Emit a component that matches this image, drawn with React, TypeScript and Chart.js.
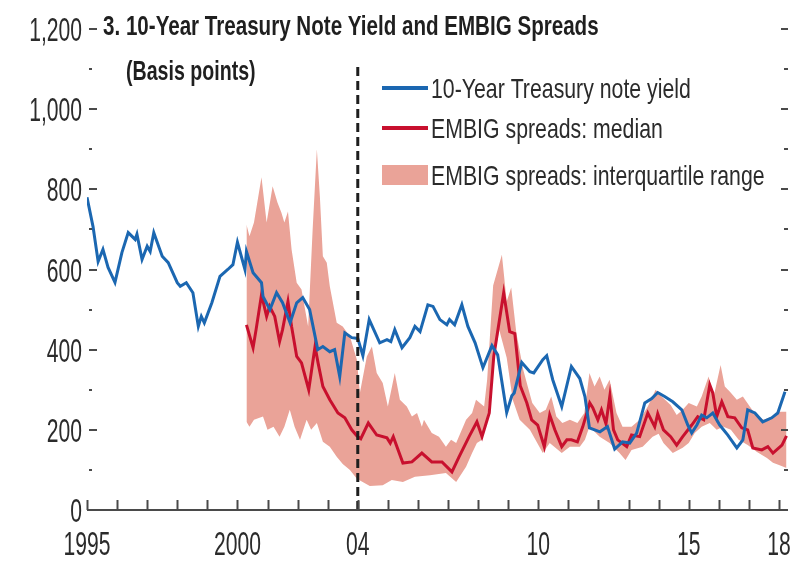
import React, { useEffect, useRef } from "react";
import { Chart, registerables } from "chart.js";

Chart.register(...registerables);

// ---------- data ----------
const treasuryDates = [
  1995.0, 1995.2, 1995.37, 1995.53, 1995.7, 1995.93, 1996.16, 1996.37, 1996.6, 1996.66, 1996.83,
  1997.0, 1997.1, 1997.22, 1997.5, 1997.7, 1998.0, 1998.1, 1998.3, 1998.52, 1998.7, 1998.8, 1998.9,
  1999.15, 1999.42, 1999.68, 1999.85, 2000.0, 2000.25, 2000.3, 2000.52, 2000.8, 2000.85, 2001.08,
  2001.3, 2001.5, 2001.75, 2001.97, 2002.17, 2002.4, 2002.67, 2002.84, 2003.07, 2003.23, 2003.4,
  2003.57, 2003.8, 2004.0, 2004.17, 2004.38, 2004.73, 2004.97, 2005.1, 2005.23, 2005.47, 2005.73,
  2005.9, 2006.07, 2006.33, 2006.5, 2006.73, 2006.96, 2007.05, 2007.22, 2007.46, 2007.66, 2007.9,
  2008.16, 2008.46, 2008.65, 2008.95, 2009.12, 2009.2, 2009.45, 2009.72, 2009.85, 2010.15, 2010.28,
  2010.48, 2010.78, 2011.1, 2011.38, 2011.55, 2011.7, 2012.05, 2012.3, 2012.54, 2012.8, 2013.04,
  2013.27, 2013.54, 2013.77, 2013.97, 2014.2, 2014.47, 2014.77, 2014.97, 2015.1, 2015.27, 2015.43,
  2015.6, 2015.8, 2016.03, 2016.3, 2016.6, 2016.8, 2016.96, 2017.2, 2017.46, 2017.76, 2017.96, 2018.2,
];
const treasuryYield = [
  780, 707, 620, 650, 605, 568, 642, 692, 675, 688, 625,
  658, 645, 692, 633, 617, 567, 558, 567, 542, 458, 483, 467,
  517, 583, 600, 612, 668, 600, 645, 592, 567, 533, 500,
  542, 517, 467, 517, 530, 500, 400, 408, 395, 400, 333,
  442, 430, 428, 385, 475, 417, 425, 420, 450, 405, 430,
  458, 445, 512, 508, 475, 462, 475, 462, 512, 458, 417,
  355, 410, 387, 243, 285, 292, 368, 345, 342, 375, 385,
  325, 258, 358, 328, 283, 205, 195, 208, 152, 170, 167,
  192, 267, 278, 293, 283, 270, 250, 212, 192, 212, 237,
  230, 242, 212, 187, 155, 175, 250, 242, 220, 230, 242, 295,
];

const medianDates = [
  2000.3, 2000.52, 2000.62, 2000.8, 2000.97, 2001.07, 2001.24, 2001.4, 2001.5, 2001.68, 2001.8,
  2001.97, 2002.13, 2002.37, 2002.58, 2002.68, 2002.84, 2003.07, 2003.34, 2003.57, 2003.8, 2003.97,
  2004.1, 2004.35, 2004.63, 2004.97, 2005.08, 2005.18, 2005.5, 2005.8, 2006.13, 2006.46, 2006.8,
  2007.13, 2007.37, 2007.7, 2007.96, 2008.13, 2008.37, 2008.52, 2008.85, 2009.05, 2009.22, 2009.4,
  2009.62, 2009.78, 2009.98, 2010.2, 2010.38, 2010.55, 2010.78, 2010.95, 2011.1, 2011.3, 2011.48,
  2011.71, 2011.81, 2011.98, 2012.1, 2012.25, 2012.38, 2012.5, 2012.64, 2012.94, 2013.1, 2013.37,
  2013.64, 2013.87, 2013.97, 2014.16, 2014.4, 2014.6, 2014.8, 2015.1, 2015.3, 2015.5, 2015.7, 2015.8,
  2015.93, 2016.1, 2016.3, 2016.53, 2016.76, 2016.96, 2017.13, 2017.43, 2017.63, 2017.8, 2018.1, 2018.25,
];
const embigMedian = [
  462, 405, 450, 537, 483, 508, 483, 420, 450, 520, 458,
  383, 367, 300, 408, 367, 308, 275, 242, 230, 200, 185,
  178, 217, 187, 180, 167, 183, 117, 120, 142, 120, 120,
  95, 133, 183, 220, 183, 242, 383, 542, 445, 440, 310,
  267, 225, 212, 158, 237, 200, 158, 175, 175, 170, 208,
  267, 255, 225, 250, 215, 285, 200, 175, 158, 187, 183,
  242, 208, 240, 200, 183, 162, 183, 212, 233, 225, 312, 292,
  233, 270, 233, 230, 205, 200, 155, 150, 158, 142, 162, 185,
];

const upperDates = [
  2000.3, 2000.4, 2000.55, 2000.8, 2000.97, 2001.17, 2001.33, 2001.46, 2001.56, 2001.68, 2001.8,
  2001.97, 2002.13, 2002.35, 2002.5, 2002.64, 2002.74, 2002.84, 2002.97, 2003.07, 2003.3, 2003.5,
  2003.74, 2003.97, 2004.07, 2004.3, 2004.47, 2004.63, 2004.83, 2005.0, 2005.23, 2005.4, 2005.63,
  2005.8, 2005.97, 2006.13, 2006.2, 2006.46, 2006.7, 2006.93, 2007.1, 2007.27, 2007.6, 2007.8,
  2007.93, 2008.2, 2008.3, 2008.5, 2008.79, 2008.95, 2009.1, 2009.27, 2009.5, 2009.65, 2009.8,
  2010.05, 2010.25, 2010.43, 2010.6, 2010.8, 2011.05, 2011.3, 2011.53, 2011.7, 2011.87, 2012.04,
  2012.2, 2012.37, 2012.6, 2012.8, 2013.1, 2013.37, 2013.64, 2013.9, 2014.1, 2014.4, 2014.6,
  2014.8, 2015.0, 2015.27, 2015.43, 2015.66, 2015.83, 2016.06, 2016.2, 2016.37, 2016.6, 2016.8,
  2017.03, 2017.27, 2017.5, 2017.76, 2018.0, 2018.25,
];
const embigUpper = [
  712, 683, 717, 830, 717, 808, 767, 742, 717, 745, 650,
  567, 550, 458, 700, 900, 783, 633, 617, 558, 467, 458,
  433, 375, 292, 383, 408, 342, 317, 258, 342, 275, 258,
  233, 242, 208, 225, 192, 183, 158, 175, 167, 225, 242,
  275, 258, 325, 560, 637, 520, 555, 442, 350, 308, 267,
  242, 250, 283, 233, 217, 225, 217, 242, 342, 308, 333,
  300, 325, 242, 208, 208, 225, 258, 300, 283, 262, 237,
  250, 267, 258, 283, 333, 283, 362, 308, 295, 275, 283,
  258, 233, 225, 233, 245, 245,
];

const lowerDates = [
  2000.3, 2000.4, 2000.55, 2000.85, 2001.0, 2001.2, 2001.4, 2001.56, 2001.74, 2001.9, 2002.08,
  2002.3, 2002.45, 2002.64, 2002.84, 2003.07, 2003.3, 2003.5, 2003.74, 2003.97, 2004.4, 2004.83,
  2005.13, 2005.5, 2005.9, 2006.4, 2006.93, 2007.27, 2007.6, 2007.8, 2007.96, 2008.13, 2008.3,
  2008.5, 2008.7, 2008.95, 2009.15, 2009.38, 2009.72, 2009.85, 2010.15, 2010.38, 2010.78, 2011.05,
  2011.38, 2011.55, 2011.7, 2012.04, 2012.37, 2012.7, 2012.9, 2013.1, 2013.47, 2013.8, 2014.0,
  2014.16, 2014.47, 2014.8, 2015.0, 2015.2, 2015.43, 2015.7, 2015.93, 2016.15, 2016.4, 2016.66,
  2016.96, 2017.27, 2017.6, 2017.8, 2018.0, 2018.25,
];
const embigLower = [
  220, 208, 225, 233, 200, 208, 183, 208, 250, 208, 175,
  225, 200, 217, 170, 158, 133, 115, 100, 78, 60, 62,
  75, 70, 83, 87, 92, 70, 108, 142, 167, 175, 225,
  367, 450, 380, 275, 225, 200, 183, 142, 167, 142, 158,
  158, 175, 208, 183, 167, 142, 125, 150, 158, 183, 190,
  167, 142, 155, 167, 192, 208, 217, 200, 208, 200, 175,
  162, 145, 130, 118, 112, 105,
];

const yTickValues = [0, 200, 400, 600, 800, 1000, 1200];
const yTickLabels = ["0", "200", "400", "600", "800", "1,000", "1,200"];
const xTickYears = [1995, 2000, 2004, 2010, 2015, 2018];
const xTickLabels = ["1995", "2000", "04", "10", "15", "18"];
const markerYear = 2004;

const titleText = "3. 10-Year Treasury Note Yield and EMBIG Spreads";
const subtitleText = "(Basis points)";
const legendLabels = [
  "10-Year Treasury note yield",
  "EMBIG spreads: median",
  "EMBIG spreads: interquartile range",
];

// ---------- style ----------
const BLUE = "#1b67b1";
const RED = "#c8102e";
const BAND = "#eaa398";
const TEXT = "#2b2b2b";
const AXIS = "#4a4a4a";
const FONT = '"Liberation Sans", Arial, sans-serif';
const SX = 0.64;

const pts = (xs: number[], ys: number[]) => xs.map((x, i) => ({ x, y: ys[i] }));

function drawText(
  ctx: CanvasRenderingContext2D,
  s: string,
  x: number,
  y: number,
  size: number,
  bold: boolean,
  align: CanvasTextAlign,
  color: string,
  sx = SX
) {
  ctx.save();
  ctx.font = `${bold ? "bold " : ""}${size}px ${FONT}`;
  ctx.fillStyle = color;
  ctx.textAlign = align;
  ctx.textBaseline = "alphabetic";
  ctx.translate(x, y);
  ctx.scale(sx, 1);
  ctx.fillText(s, 0, 0);
  ctx.restore();
}

const decorPlugin = {
  id: "decor",
  afterDatasetsDraw(chart: any) {
    const { ctx, chartArea, scales } = chart;
    const xs = scales.x;
    const ys = scales.y;
    const L = chartArea.left;
    const R = chartArea.right;
    const B = chartArea.bottom;

    // dashed 2004 marker
    ctx.save();
    ctx.strokeStyle = "#1e1e1e";
    ctx.lineWidth = 3;
    ctx.setLineDash([9, 5]);
    const mx = xs.getPixelForValue(markerYear);
    ctx.beginPath();
    ctx.moveTo(mx, 67);
    ctx.lineTo(mx, B);
    ctx.stroke();
    ctx.restore();

    // y tick marks both sides
    ctx.save();
    ctx.strokeStyle = AXIS;
    ctx.lineWidth = 2;
    for (let v = 100; v <= 1200; v += 100) {
      const y = Math.round(ys.getPixelForValue(v));
      const major = v % 200 === 0;
      ctx.beginPath();
      ctx.moveTo(L + 2, y);
      ctx.lineTo(L + (major ? 10 : 5), y);
      ctx.stroke();
      ctx.beginPath();
      ctx.moveTo(R - (major ? 7 : 4), y);
      ctx.lineTo(R, y);
      ctx.stroke();
    }
    // bottom axis
    ctx.beginPath();
    ctx.moveTo(L, B);
    ctx.lineTo(R, B);
    ctx.stroke();
    for (let yr = 1995; yr <= 2018; yr++) {
      const x = Math.round(xs.getPixelForValue(yr)) + 0.5;
      ctx.beginPath();
      ctx.moveTo(x, B);
      ctx.lineTo(x, B - 10);
      ctx.stroke();
    }
    ctx.restore();

    // y labels
    yTickValues.forEach((v, i) => {
      const y = ys.getPixelForValue(v);
      drawText(ctx, yTickLabels[i], L - 5, y + 12, 33, false, "right", TEXT);
    });
    // x labels
    xTickYears.forEach((yr, i) => {
      const x = xs.getPixelForValue(yr);
      drawText(ctx, xTickLabels[i], x, 555, 33, false, "center", TEXT);
    });

    // title
    drawText(ctx, titleText, 103, 35, 28, true, "left", "#1f1f1f", 0.735);
    drawText(ctx, subtitleText, 126, 80, 28, true, "left", "#1f1f1f", 0.7);

    // legend
    const lx0 = 382;
    const lx1 = 428;
    const rows = [88, 128, 175];
    ctx.save();
    ctx.lineWidth = 4;
    ctx.strokeStyle = BLUE;
    ctx.beginPath();
    ctx.moveTo(lx0, rows[0]);
    ctx.lineTo(lx1, rows[0]);
    ctx.stroke();
    ctx.strokeStyle = RED;
    ctx.beginPath();
    ctx.moveTo(lx0, rows[1]);
    ctx.lineTo(lx1, rows[1]);
    ctx.stroke();
    ctx.fillStyle = BAND;
    ctx.fillRect(lx0, rows[2] - 10, lx1 - lx0, 20);
    ctx.restore();
    legendLabels.forEach((s, i) => {
      drawText(ctx, s, 431, rows[i] + 10, 28, false, "left", TEXT, 0.76);
    });
  },
};

export default function App() {
  const ref = useRef<HTMLCanvasElement>(null);
  useEffect(() => {
    if (!ref.current) return;
    const chart = new Chart(ref.current, {
      type: "line",
      data: {
        datasets: [
          {
            label: legendLabels[0],
            data: pts(treasuryDates, treasuryYield),
            borderColor: BLUE,
            borderWidth: 3,
            pointRadius: 0,
            tension: 0,
            fill: false,
          },
          {
            label: legendLabels[1],
            data: pts(medianDates, embigMedian),
            borderColor: RED,
            borderWidth: 3,
            pointRadius: 0,
            tension: 0,
            fill: false,
          },
          {
            label: legendLabels[2],
            data: pts(upperDates, embigUpper),
            borderColor: BAND,
            borderWidth: 0,
            backgroundColor: BAND,
            pointRadius: 0,
            tension: 0,
            fill: "+1",
          },
          {
            label: "lower",
            data: pts(lowerDates, embigLower),
            borderColor: BAND,
            borderWidth: 0,
            pointRadius: 0,
            tension: 0,
            fill: false,
          },
        ],
      },
      options: {
        animation: false,
        responsive: false,
        maintainAspectRatio: false,
        layout: { padding: { left: 87, right: 16, top: 29, bottom: 51 } },
        plugins: { legend: { display: false }, title: { display: false }, tooltip: { enabled: false } },
        scales: {
          x: { type: "linear", min: 1995, max: 2018.3, display: false },
          y: { type: "linear", min: 0, max: 1200, display: false },
        },
      },
      plugins: [decorPlugin],
    });
    return () => chart.destroy();
  }, []);
  return (
    <div style={{ position: "fixed", left: 0, top: 0, width: 804, height: 561, background: "#fff" }}>
      <canvas ref={ref} width={804} height={561} style={{ display: "block" }} />
    </div>
  );
}
